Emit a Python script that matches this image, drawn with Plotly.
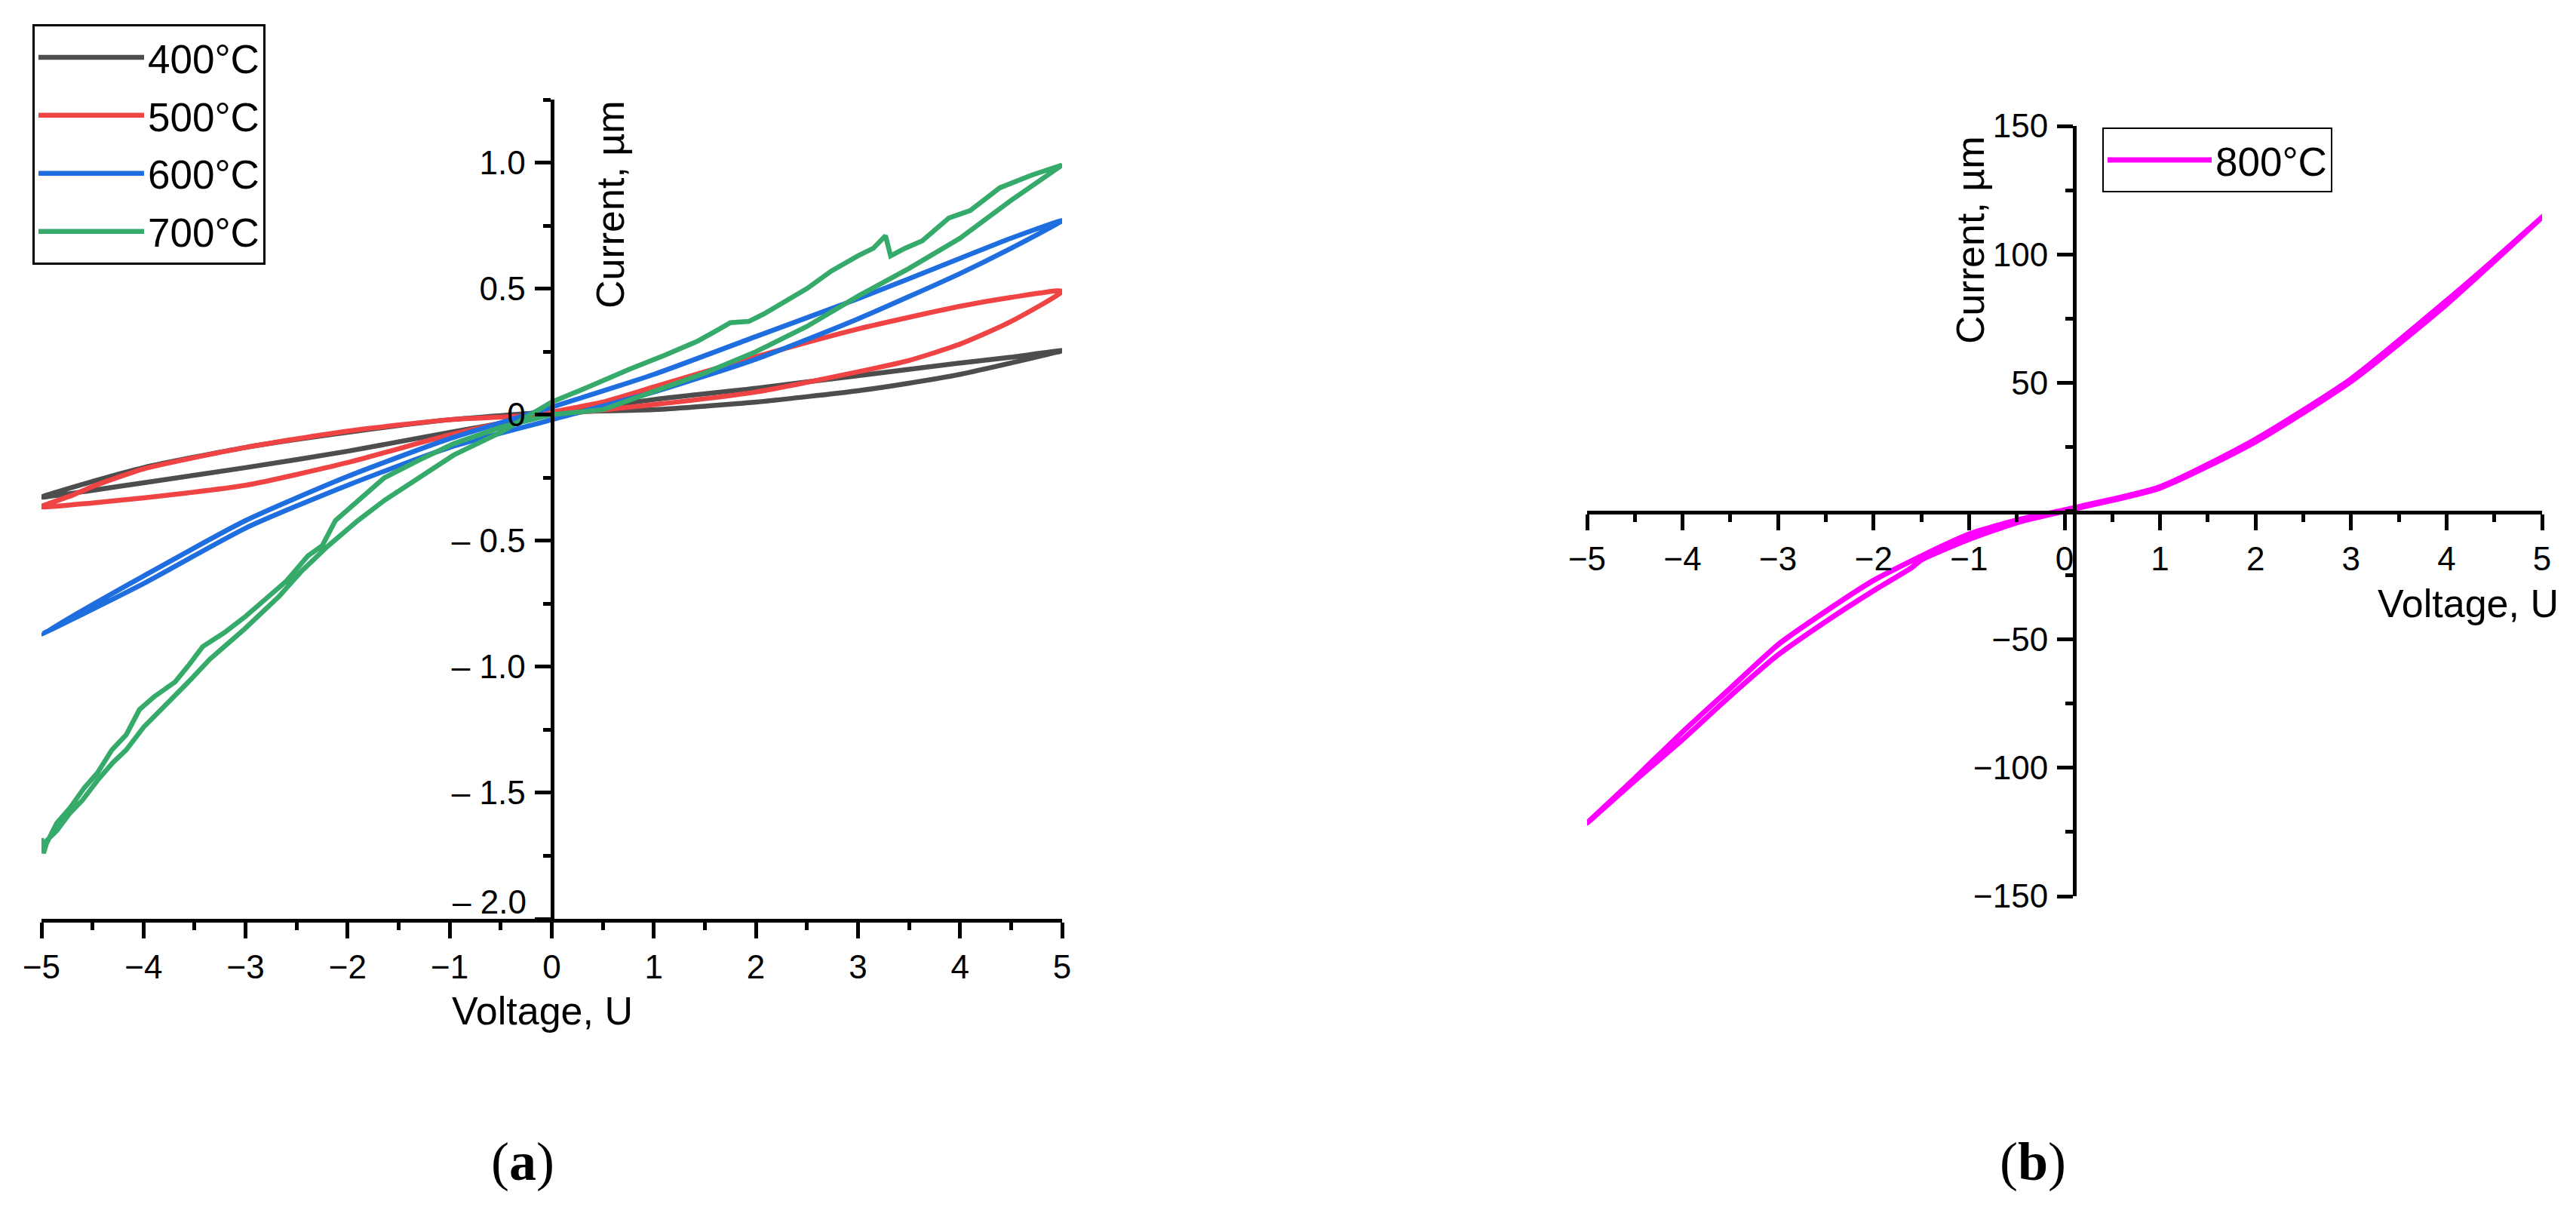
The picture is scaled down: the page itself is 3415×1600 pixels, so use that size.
import plotly.graph_objects as go

# ---- (a) I-V loops, 400-700 C ----
v_400 = [-5, -4.5, -4, -3, -2, -1, 0, 1, 2, 3, 3.5, 4, 4.5, 5,
         4.5, 4, 3, 2, 1, 0, -1, -2, -3, -4, -4.5, -5]
i_400 = [-0.327, -0.265, -0.21, -0.13, -0.07, -0.02, 0.01, 0.02, 0.05, 0.095, 0.125, 0.16, 0.205, 0.254,
         0.228, 0.205, 0.155, 0.105, 0.06, 0.0, -0.07, -0.145, -0.21, -0.27, -0.30, -0.327]

v_500 = [-5, -4.7, -4.5, -4, -3, -2, -1, 0, 1, 2, 3, 3.5, 4, 4.5, 5,
         4.5, 4, 3, 2, 1, 0.5, 0, -1, -2, -3, -4, -4.5, -5]
i_500 = [-0.365, -0.32, -0.285, -0.215, -0.13, -0.065, -0.02, 0.0, 0.04, 0.09, 0.17, 0.215, 0.28, 0.37, 0.49,
         0.465, 0.43, 0.34, 0.23, 0.11, 0.05, 0.01, -0.08, -0.19, -0.28, -0.33, -0.35, -0.365]

v_600 = [-5, -4, -3, -2, -1, 0, 1, 2, 3, 4, 4.5, 5,
         4.5, 4, 3, 2, 1, 0, -1, -2, -3, -4, -5]
i_600 = [-0.87, -0.64, -0.42, -0.245, -0.095, 0.03, 0.16, 0.31, 0.46, 0.62, 0.70, 0.77,
         0.66, 0.56, 0.38, 0.22, 0.09, -0.02, -0.13, -0.28, -0.45, -0.67, -0.87]

v_700 = [-5, -4.98, -4.95, -4.85, -4.72, -4.58, -4.45, -4.31, -4.17, -4.04, -3.9, -3.69, -3.55,
         -3.42, -3.21, -3.0, -2.8, -2.6, -2.39, -2.25, -2.12, -1.9, -1.64, -1.3, -0.96, -0.5, 0,
         0.5, 1, 1.5, 2, 2.5, 3, 3.5, 4, 4.5, 5,
         4.7, 4.39, 4.1, 3.89, 3.63, 3.46, 3.32, 3.27, 3.15, 3.0, 2.74, 2.5, 2.3, 2.08, 1.93, 1.75,
         1.6, 1.42, 1.1, 0.76, 0.3, 0,
         -0.5, -0.96, -1.3, -1.64, -1.9, -2.19, -2.45, -2.67, -3.01, -3.2, -3.35, -3.56, -3.83,
         -4.0, -4.17, -4.3, -4.45, -4.6, -4.72, -4.85, -4.95, -5]
i_700 = [-1.68, -1.74, -1.70, -1.62, -1.56, -1.48, -1.42, -1.33, -1.27, -1.17, -1.12, -1.06, -0.99,
         -0.92, -0.865, -0.80, -0.73, -0.66, -0.56, -0.52, -0.42, -0.34, -0.25, -0.18, -0.115, -0.05, 0.0,
         0.02, 0.09, 0.165, 0.25, 0.35, 0.47, 0.58, 0.70, 0.85, 0.99,
         0.95, 0.90, 0.81, 0.78, 0.69, 0.66, 0.63, 0.71, 0.66, 0.63, 0.57, 0.50, 0.45, 0.40, 0.37, 0.365,
         0.33, 0.29, 0.235, 0.18, 0.10, 0.05,
         -0.07, -0.16, -0.25, -0.34, -0.42, -0.52, -0.62, -0.72, -0.85, -0.92, -0.97, -1.06, -1.17,
         -1.24, -1.33, -1.38, -1.45, -1.53, -1.58, -1.65, -1.69, -1.73]

# ---- (b) I-V loop, 800 C ----
v_800 = [-5, -4.5, -4, -3.5, -3, -2.5, -2, -1.5, -1, -0.5, 0, 1, 2, 3, 4, 4.5, 5,
         4, 3, 2, 1, 0, -0.5, -1, -1.5, -1.6, -2, -2.5, -3, -3.5, -4, -4.5, -5]
i_800 = [-121.5, -104, -86, -69, -52, -39, -27, -17.5, -9, -3.5, 0.5, 9.5, 28, 51.5, 82, 98, 114.5,
         80.5, 50.5, 27, 9, 0, -4.5, -11, -19, -22, -31, -43, -56, -72, -89, -105, -121.5]

# name, V, I, colour, smooth?
series_a = [
    ("400°C", v_400, i_400, "#4d4d4d", True),
    ("500°C", v_500, i_500, "#f04343", True),
    ("600°C", v_600, i_600, "#1e6ee0", True),
    ("700°C", v_700, i_700, "#35aa6a", False),
]

FONT = "Liberation Sans, Arial, sans-serif"
W, H = 3415, 1600
OFF = 8  # page body margin shifts the whole figure by this many px


def px(x):
    """Reference pixel column -> paper x."""
    return (x - OFF) / W


def py(y):
    """Reference pixel row -> paper y."""
    return 1 - (y - OFF) / H


fig = go.Figure()

for i, (name, v, cur, color, smooth) in enumerate(series_a):
    line = {"color": color, "width": 6.5}
    if smooth:
        line.update(shape="spline", smoothing=0.6)
    fig.add_trace(go.Scatter(
        x=v, y=cur, mode="lines", name=name, line=line,
        xaxis="x", yaxis="y", legend="legend", legendgroup=f"g{i}",
    ))

fig.add_trace(go.Scatter(
    x=v_800, y=i_800, mode="lines", name="800°C",
    line={"color": "#ff00ff", "width": 7, "shape": "spline", "smoothing": 0.6},
    xaxis="x2", yaxis="y2", legend="legend2",
))

axis_common = dict(
    showline=True, linecolor="black", linewidth=5,
    ticks="outside", ticklen=21, tickwidth=5, tickcolor="black",
    showgrid=False, zeroline=False, automargin=False,
    tickfont={"family": FONT, "size": 44, "color": "black"},
)

# panel geometry, in pixels measured on the reference
ax_dom = [px(55), px(1408)]
ay_dom = [py(1218), py(132)]
bx_dom = [px(2104), px(3370)]
by_dom = [py(1188), py(167)]

a_y_pos = px(731.5)
b_y_pos = px(2750)
b_x_pos = py(679)

x_ticks = [-5, -4, -3, -2, -1, 0, 1, 2, 3, 4, 5]
x_text = ["−5", "−4", "−3", "−2", "−1", "0", "1", "2", "3", "4", "5"]
ya_ticks = [-2.0, -1.5, -1.0, -0.5, 0, 0.5, 1.0]
ya_text = ["", "– 1.5", "– 1.0", "– 0.5", "0", "0.5", "1.0"]
yb_ticks = [-150, -100, -50, 50, 100, 150]
yb_text = ["−150", "−100", "−50", "50", "100", "150"]


def minor(d):
    return dict(ticks="outside", ticklen=10, tickwidth=5, tickcolor="black",
                tickmode="linear", tick0=0, dtick=d, showgrid=False)


fig.update_layout(
    width=W, height=H,
    margin={"l": 0, "r": 0, "t": 0, "b": 0},
    paper_bgcolor="white", plot_bgcolor="white",
    font={"family": FONT, "color": "black"},
    xaxis=dict(axis_common, domain=ax_dom, range=[-5, 5], anchor="y",
               tickmode="array", tickvals=x_ticks, ticktext=x_text,
               ticklabelstandoff=0, minor=minor(0.5)),
    yaxis=dict(axis_common, domain=ay_dom, range=[-2.0, 1.25], anchor="free",
               position=a_y_pos, tickmode="array", tickvals=ya_ticks, ticktext=ya_text,
               ticklabelstandoff=3, minor=minor(0.25)),
    xaxis2=dict(axis_common, domain=bx_dom, range=[-5, 5], anchor="free",
                position=b_x_pos, tickmode="array", tickvals=x_ticks, ticktext=x_text,
                ticklabelstandoff=0, minor=minor(0.5)),
    yaxis2=dict(axis_common, domain=by_dom, range=[-150, 150], anchor="free",
                position=b_y_pos, tickmode="array", tickvals=yb_ticks, ticktext=yb_text,
                ticklabelstandoff=3, minor=minor(25)),
    legend=dict(
        x=px(43), y=py(32), xanchor="left", yanchor="top",
        bordercolor="black", borderwidth=3, bgcolor="white",
        font={"family": FONT, "size": 53, "color": "black"},
        itemwidth=140, tracegroupgap=5,
    ),
    legend2=dict(
        x=px(2787), y=py(169), xanchor="left", yanchor="top",
        bordercolor="black", borderwidth=2, bgcolor="white",
        font={"family": FONT, "size": 53, "color": "black"},
        itemwidth=138,
    ),
    showlegend=True,
)

title_font = {"family": FONT, "size": 52, "color": "black"}
tick_font = {"family": FONT, "size": 44, "color": "black"}
label_font = {"family": "Liberation Serif, Times New Roman, serif", "size": 72, "color": "black"}

annotations = [
    dict(text="Voltage, U", x=px(719), y=py(1340), font=title_font),
    dict(text="Voltage, U", x=px(3394), y=py(800), xanchor="right", font=title_font),
    dict(text="Current, µm", x=px(809), y=py(271), textangle=-90, font=title_font),
    dict(text="Current, µm", x=px(2612), y=py(318), textangle=-90, font=title_font),
    # bottom tick label of panel (a) sits just above the x axis, as in the original
    dict(text="– 2.0", x=px(700), y=py(1195), xanchor="right", font=tick_font),
    dict(text="(<b>a</b>)", x=px(693), y=py(1540), font=label_font),
    dict(text="(<b>b</b>)", x=px(2695), y=py(1540), font=label_font),
]
for a in annotations:
    a.setdefault("xanchor", "center")
    fig.add_annotation(xref="paper", yref="paper", showarrow=False, yanchor="middle", **a)

fig.write_html("out.html")
